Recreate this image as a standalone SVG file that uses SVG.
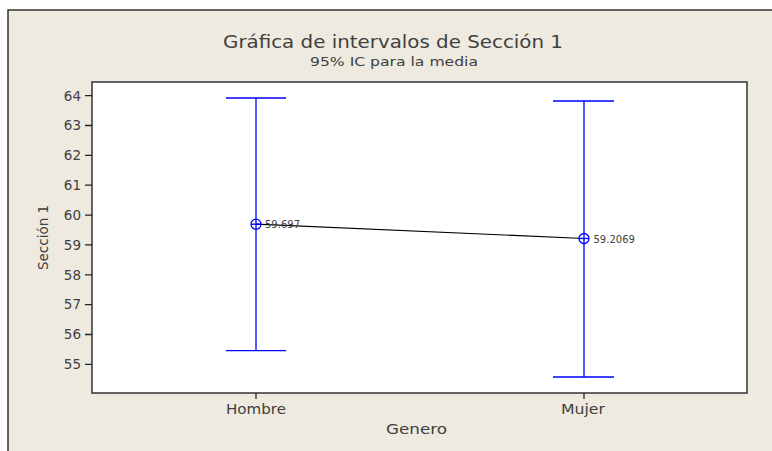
<svg xmlns="http://www.w3.org/2000/svg" width="772" height="451" viewBox="0 0 772 451">
<style>
text{font-family:"DejaVu Sans","Liberation Sans",sans-serif;fill:#404040}
.tk{font-size:13.5px;text-anchor:end}
.xl{font-size:13.5px;text-anchor:middle}
.bar{stroke:#0000ff;stroke-width:1.3;fill:none}
.tick{stroke:#222;stroke-width:1.3}
.val{font-size:10px}
</style>
<rect width="772" height="451" fill="#ffffff"/>
<rect x="8" y="10" width="800" height="500" fill="#eeeae0" stroke="#333" stroke-width="1.5"/>
<g id="titles">
<text x="393" y="48" font-size="17" text-anchor="middle" textLength="340" lengthAdjust="spacingAndGlyphs">Gráfica de intervalos de Sección 1</text>
<text x="394" y="65.5" font-size="13" text-anchor="middle" textLength="168" lengthAdjust="spacingAndGlyphs">95% IC para la media</text>
</g>
<g id="plot">
<rect x="92" y="82" width="655" height="311" fill="#ffffff" stroke="#333" stroke-width="1.5"/>
</g>
<g id="yaxis">
<path class="tick" d="M85 95.7H92M85 125.5H92M85 155.4H92M85 185.2H92M85 215.1H92M85 244.9H92M85 274.8H92M85 304.6H92M85 334.5H92M85 364.3H92"/>
<text class="tk" x="81" y="100.5">64</text>
<text class="tk" x="81" y="130.3">63</text>
<text class="tk" x="81" y="160.2">62</text>
<text class="tk" x="81" y="190">61</text>
<text class="tk" x="81" y="219.9">60</text>
<text class="tk" x="81" y="249.7">59</text>
<text class="tk" x="81" y="279.6">58</text>
<text class="tk" x="81" y="309.4">57</text>
<text class="tk" x="81" y="339.3">56</text>
<text class="tk" x="81" y="369.1">55</text>
<text x="48" y="237.5" font-size="13.5" text-anchor="middle" transform="rotate(-90 48 237.5)">Sección 1</text>
</g>
<g id="xaxis">
<path class="tick" d="M256 393V399M584 393V399"/>
<text class="xl" x="256" y="414" textLength="60" lengthAdjust="spacingAndGlyphs">Hombre</text>
<text class="xl" x="583" y="414" textLength="44" lengthAdjust="spacingAndGlyphs">Mujer</text>
<text class="xl" x="416.5" y="434" textLength="61" lengthAdjust="spacingAndGlyphs">Genero</text>
</g>
<g id="connectors">
<line x1="256" y1="224.2" x2="584" y2="238.5" stroke="#000" stroke-width="1.2"/>
</g>
<g id="hombre">
<path class="bar" d="M226 98H286M256 98V350.7M226 350.7H286"/>
<circle class="bar" cx="256" cy="224.2" r="5"/>
<path class="bar" d="M251 224.2H261"/>
<text class="val" x="265" y="228">59.697</text>
</g>
<g id="mujer">
<path class="bar" d="M553 101H614M584 101V377M553 377H614"/>
<circle class="bar" cx="584" cy="238.5" r="5"/>
<path class="bar" d="M579 238.5H589"/>
<text class="val" x="593.5" y="242.5">59.2069</text>
</g>
</svg>
